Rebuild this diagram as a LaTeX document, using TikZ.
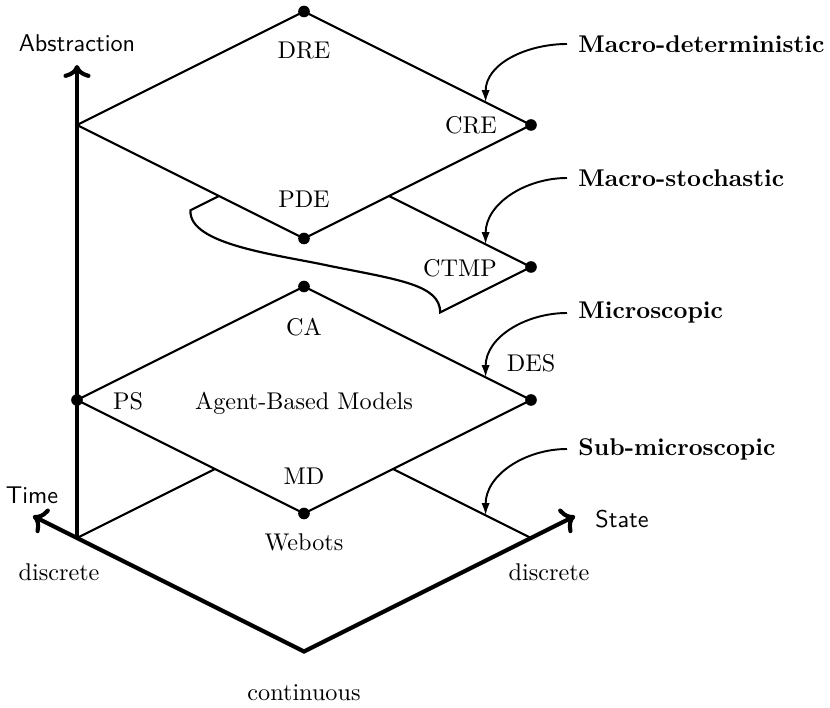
\documentclass[tikz,border=0pt]{standalone}
\usetikzlibrary{arrows.meta,calc}
\begin{document}
\begin{tikzpicture}[x=0.4133pt,y=-0.4133pt,
  edge/.style={line width=0.9pt},
  axis/.style={line width=1.7pt},
  dot/.style={circle, fill, inner sep=0pt, minimum size=4.8pt},
  lbl/.style={inner sep=0pt},
  axlbl/.style={inner sep=0pt, font=\sffamily},
  levellbl/.style={anchor=west, inner xsep=4.5pt, inner ysep=0pt, font=\bfseries},
  pointer/.style={line width=0.8pt, -{Latex[length=5pt,width=3.4pt]}}]

\useasboundingbox (0,0) rectangle (830,708);

% corners of the four planes (top, left, right, bottom)
\coordinate (dT) at (304,11.5);  \coordinate (dL) at (77,125);
\coordinate (dR) at (531,125);   \coordinate (dB) at (304,238.5);
\coordinate (sT) at (304,153.5); \coordinate (sL) at (77,267);
\coordinate (sR) at (531,267);   \coordinate (sB) at (304,380.5);
\coordinate (mT) at (304,286.5); \coordinate (mL) at (77,400);
\coordinate (mR) at (531,400);   \coordinate (mB) at (304,513.5);
\coordinate (gT) at (304,424.5); \coordinate (gL) at (77,538);
\coordinate (gR) at (531,538);   \coordinate (gB) at (304,651.5);

% axes
\coordinate (abstip) at (77,65);
\coordinate (timetip) at ($(gL)!-0.194!(gB)$);
\coordinate (statetip) at ($(gR)!-0.194!(gB)$);
\draw[axis,->] (gL) -- (abstip);
\draw[axis,<->] (timetip) -- (gL) -- (gB) -- (gR) -- (statetip);

% ground plane, partly hidden by the microscopic plane
\draw[edge] (gL) -- (intersection of gL--gT and mL--mB);
\draw[edge] (gR) -- (intersection of gR--gT and mR--mB);

% microscopic plane
\draw[edge] (mL) -- (mT) -- (mR) -- (mB) -- cycle;

% macro-deterministic plane
\draw[edge] (dL) -- (dT) -- (dR) -- (dB) -- cycle;

% macro-stochastic plane, torn on its left side
\coordinate (sx1) at (intersection of sL--sT and dL--dB);
\coordinate (sx2) at (intersection of sT--sR and dB--dR);
\coordinate (w1) at ($(sL)!0.5!(sT)$);
\coordinate (w2) at ($(sR)!0.4!(sB)$);
\draw[edge] (sx1) -- (w1) .. controls (188,245) and (280,255) .. (330,266)
  .. controls (400,280) and (440,285) .. (w2) -- (sR) -- (sx2);

% corner dots
\foreach \c in {dT,dR,dB,sR,mT,mL,mR,mB}
  \node[dot] (dot-\c) at (\c) {};

% model labels
\node[lbl] (DRE) at (304,51) {DRE};
\node[lbl] (CRE) at (471,125) {CRE};
\node[lbl] (PDE) at (304,199) {PDE};
\node[lbl] (CTMP) at (460,268) {CTMP};
\node[lbl] (CA) at (304,327) {CA};
\node[lbl] (PS) at (128,401) {PS};
\node[lbl] (ABM) at (304,403) {Agent-Based Models};
\node[lbl] (DES) at (531,363) {DES};
\node[lbl] (MD) at (304,476) {MD};
\node[lbl] (Webots) at (304,542) {Webots};

% axis labels
\node[axlbl] (absl) at (77,43) {Abstraction};
\node[axlbl] (timel) at (32,495) {Time};
\node[axlbl] (statel) at (622,519) {State};
\node[lbl] (discL) at (59,572) {discrete};
\node[lbl] (discR) at (549,572) {discrete};
\node[lbl] (cont) at (304,693) {continuous};

% level names with pointers
\node[levellbl] (mdet) at (567,44) {Macro-deterministic};
\node[levellbl] (msto) at (567,178) {Macro-stochastic};
\node[levellbl] (micro) at (567,313) {Microscopic};
\node[levellbl] (sub) at (567,449) {Sub-microscopic};
\draw[pointer] (mdet.west) to[out=180,in=90] ($(dT)!0.8!(dR)$);
\draw[pointer] (msto.west) to[out=180,in=90] ($(sT)!0.8!(sR)$);
\draw[pointer] (micro.west) to[out=180,in=90] ($(mT)!0.8!(mR)$);
\draw[pointer] (sub.west) to[out=180,in=90] ($(gT)!0.8!(gR)$);
\end{tikzpicture}
\end{document}
